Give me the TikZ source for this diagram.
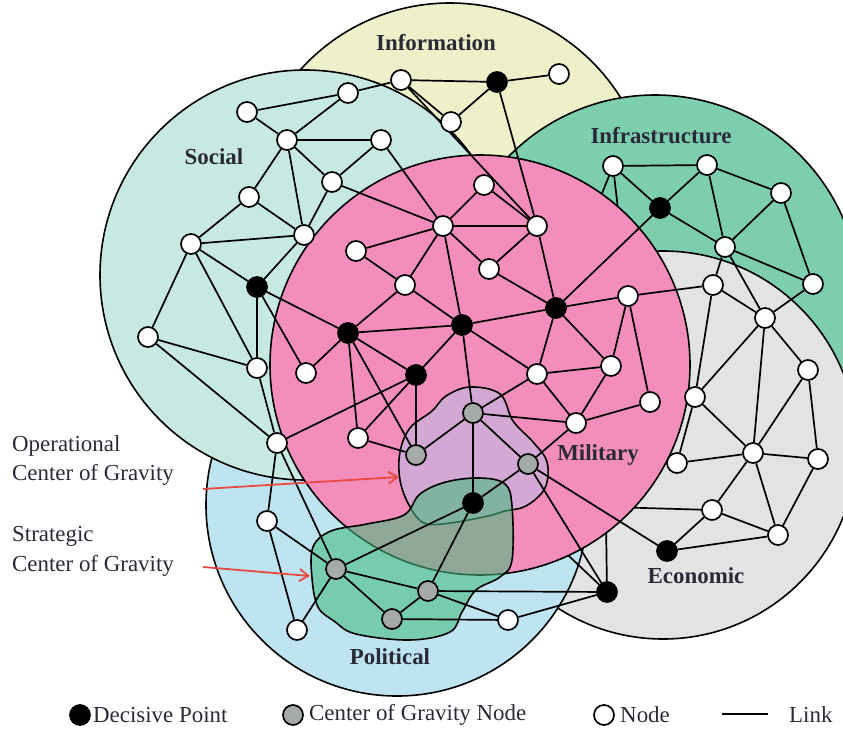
\documentclass[tikz,border=0pt]{standalone}
\usepackage{fontspec}
\setmainfont{Liberation Serif}
\usepackage{xcolor}
\usepackage{tikz}
\usetikzlibrary{arrows.meta,backgrounds}
\definecolor{InfoYellow}{HTML}{EEF0C9}
\definecolor{SocialTeal}{HTML}{C8E9E2}
\definecolor{InfraGreen}{HTML}{7DCEAF}
\definecolor{MilPink}{HTML}{F38DBB}
\definecolor{EconGray}{HTML}{E2E3E3}
\definecolor{PolBlue}{HTML}{BEE3F1}
\definecolor{OpLavender}{HTML}{D4A8D4}
\definecolor{StratGreen}{HTML}{45BA7E}
\definecolor{CogGray}{HTML}{A7ABA8}
\definecolor{ArrowRed}{HTML}{E84A3F}
\definecolor{TextDark}{HTML}{2A2A36}
\pgfdeclarelayer{zones}
\pgfdeclarelayer{hidden}
\pgfdeclarelayer{top zone}
\pgfdeclarelayer{links}
\pgfsetlayers{zones,hidden,top zone,links,main}

\tikzset{
  nd/.style={circle, draw, line width=1.7bp, fill=white, minimum size=20bp, inner sep=0pt},
  dp/.style={nd, fill=black},
  cg/.style={nd, fill=CogGray},
  zone/.style={draw=black, line width=1.6bp},
  link/.style={line width=1.7bp},
  lbl/.style={font=\fontsize{23}{26}\selectfont\bfseries, text=TextDark},
  side/.style={font=\fontsize{23}{30}\selectfont, text=TextDark, align=left, inner sep=0pt},
  legend/.style={font=\fontsize{23}{26}\selectfont, text=TextDark, anchor=west, inner sep=0pt},
  cogarrow/.style={draw=ArrowRed, line width=1.8bp, -{Straight Barb[length=9bp,width=12bp]}},
}

\begin{document}
\begin{tikzpicture}[x=1bp,y=-1bp]
\useasboundingbox (0,0) rectangle (843,742);

% information
\node[nd] (i1) at (401,80) {};
\node[dp] (i2) at (497,82) {};
\node[nd] (i3) at (559,74) {};
\node[nd] (i4) at (451,122) {};
% social
\node[nd] (s1) at (348,93) {};
\node[nd] (s2) at (247,112) {};
\node[nd] (s3) at (287,140) {};
\node[nd] (s4) at (381,140) {};
\node[nd] (s5) at (332,182) {};
\node[nd] (s6) at (249,197) {};
\node[nd] (s7) at (304,235) {};
\node[nd] (s8) at (191,244) {};
\node[dp] (s9) at (257,287) {};
\node[nd] (s10) at (148,337) {};
\node[nd] (s11) at (257,368) {};
\node[nd] (s12) at (277,443) {};
% military
\node[nd] (m1) at (484,185) {};
\node[nd] (m2) at (443,226) {};
\node[nd] (m3) at (537,226) {};
\node[nd] (m4) at (489,269) {};
\node[nd] (m5) at (356,251) {};
\node[nd] (m6) at (405,285) {};
\node[dp] (m7) at (348,333) {};
\node[dp] (m8) at (462,325) {};
\node[dp] (m9) at (556,308) {};
\node[nd] (m10) at (628,296) {};
\node[dp] (m11) at (416,375) {};
\node[nd] (m12) at (306,373) {};
\node[nd] (m13) at (537,374) {};
\node[nd] (m14) at (611,366) {};
\node[nd] (m15) at (576,423) {};
\node[nd] (m16) at (650,402) {};
\node[nd] (m17) at (358,438) {};
% centers of gravity
\node[cg] (g1) at (473,413) {};
\node[cg] (g2) at (416,455) {};
\node[cg] (g3) at (528,464) {};
\node[dp] (b1) at (473,503) {};
\node[cg] (g4) at (336,569) {};
\node[cg] (g5) at (428,591) {};
\node[cg] (g6) at (392,619) {};
% political
\node[nd] (p1) at (267,521) {};
\node[nd] (p2) at (297,630) {};
\node[nd] (w) at (508,620) {};
\node[dp] (k) at (607,592) {};
% infrastructure
\node[nd] (f1) at (613,166) {};
\node[nd] (f2) at (707,165) {};
\node[dp] (f3) at (660,208) {};
\node[nd] (f4) at (781,193) {};
\node[nd] (f5) at (725,247) {};
\node[nd] (f6) at (813,284) {};
% economic
\node[nd] (e1) at (713,285) {};
\node[nd] (e2) at (765,318) {};
\node[nd] (e3) at (808,370) {};
\node[nd] (e4) at (695,397) {};
\node[nd] (e5) at (677,463) {};
\node[nd] (e6) at (753,453) {};
\node[nd] (e7) at (818,459) {};
\node[nd] (e8) at (712,510) {};
\node[nd] (e9) at (778,535) {};
\node[dp] (e10) at (667,551) {};
\coordinate (ku) at (606,520);
\coordinate (kv) at (552,540);

% zone labels
\node[lbl] (infolbl) at (436,43) {Information};
\node[lbl] (soclbl) at (214,157) {Social};
\node[lbl] (infralbl) at (661,136) {Infrastructure};
\node[lbl] (millbl) at (598,455) {Military};
\node[lbl] (ecolbl) at (696,576) {Economic};
\node[lbl] (pollbl) at (390,657) {Political};

% pointers
\node[side, anchor=north west] (optxt) at (12,435) {Operational\\Center of Gravity};
\node[side, anchor=north west] (sttxt) at (12,526) {Strategic\\Center of Gravity};
\coordinate (opfrom) at (203,489);
\coordinate (optip) at (399,477);
\coordinate (stfrom) at (203,567);
\coordinate (sttip) at (310,576);
\draw[cogarrow] (opfrom) -- (optip);
\draw[cogarrow] (stfrom) -- (sttip);

% legend
\node[dp] (lgdp) at (80,715) {};
\node[legend] (lgdptxt) at (93,715) {Decisive Point};
\node[cg] (lgcg) at (293,715) {};
\node[legend] (lgcgtxt) at (309,715) {Center of Gravity Node};
\node[nd] (lgnd) at (604,715) {};
\node[legend] (lgndtxt) at (620,715) {Node};
\coordinate (lk1) at (722,714);
\coordinate (lk2) at (768,714);
\draw[link] (lk1) -- (lk2);
\node[legend] (lglktxt) at (789,715) {Link};

\begin{pgfonlayer}{zones}
  \filldraw[zone, fill=InfoYellow] (450,204) circle[radius=201bp];
  \filldraw[zone, fill=InfraGreen] (655,300) circle[radius=205bp];
  \filldraw[zone, fill=EconGray] (663,445) circle[radius=194bp];
  \filldraw[zone, fill=PolBlue] (397,505) circle[radius=191bp];
  \filldraw[zone, fill=SocialTeal] (305,275) circle[radius=205bp];
\end{pgfonlayer}

\begin{pgfonlayer}{hidden}
  \draw[link] (f1) -- (m9) (f1) -- (m10) (e8) -- (b1) (k) -- (ku) (k) -- (kv);
\end{pgfonlayer}

\begin{pgfonlayer}{top zone}
  \filldraw[zone, fill=MilPink] (480,365) circle[radius=210bp];
  \filldraw[zone, fill=OpLavender] plot[smooth cycle, tension=0.6] coordinates {
    (400,452) (410,428) (432,411) (446,396) (470,387) (500,394) (513,421)
    (533,442) (547,462) (545,488) (526,506) (505,511) (488,516) (450,523)
    (424,523) (409,505) (400,480)};
  \filldraw[zone, fill=StratGreen, fill opacity=0.58] plot[smooth cycle, tension=0.6] coordinates {
    (313,547) (331,531) (367,524) (404,515) (420,494) (446,482) (480,478)
    (505,484) (512,506) (512,560) (500,577) (476,590) (462,612) (450,632)
    (410,640) (356,634) (334,621) (318,607) (312,578)};
\end{pgfonlayer}

\begin{pgfonlayer}{links}
  \foreach \a/\b in {i1/i2, i2/i3, i2/i4, i1/i4, i1/s1, i1/m3, i2/m3,
    s1/s2, s1/s3, s2/s3, s3/s4, s3/s5, s3/s6, s3/s7, s4/s5, s4/m2, s5/m2,
    s5/s7, s6/s7, s6/s8, s7/s8, s7/s9, s8/s9, s8/s10, s8/s11, s9/s11,
    s9/m7, s9/m12, s10/s11, s10/s12, s11/s12, s12/m11, s12/p1, s12/g4,
    m1/m2, m1/m3, m2/m3, m2/m5, m2/m6, m2/m8, m2/m4, m3/m4, m3/m9, m4/m9,
    m5/m6, m6/m7, m6/m8, m7/m8, m7/m11, m7/m12, m7/m17, m7/g2, m8/m9,
    m8/m11, m8/m13, m8/g1, m9/m10, m9/m13, m9/m14, m9/f3, m10/m14,
    m10/m16, m10/e1, m11/m17, m11/g2, m13/m14, m13/m15, m13/g1, m14/m15,
    m15/m16, m15/g1, m15/g3, m17/g2,
    g1/g2, g1/g3, g1/b1, g3/b1, g3/e10, g3/k, b1/g4, b1/g5, g4/p1, g4/p2,
    g4/g5, g4/g6, g5/g6, g5/k, g5/w, g6/w, w/k, p1/p2,
    f1/f2, f1/f3, f2/f3, f2/f4, f2/f5, f3/f5, f4/f5, f4/f6, f5/f6, f5/e1,
    f5/e2, f6/e2,
    e1/e2, e1/e4, e2/e4, e2/e6, e2/e3, e3/e6, e3/e7, e4/e5, e4/e6, e5/e6,
    e6/e7, e6/e8, e6/e9, e7/e9, e8/e9, e8/e10, e9/e10}
    \draw[link] (\a) -- (\b);
\end{pgfonlayer}
\end{tikzpicture}
\end{document}
